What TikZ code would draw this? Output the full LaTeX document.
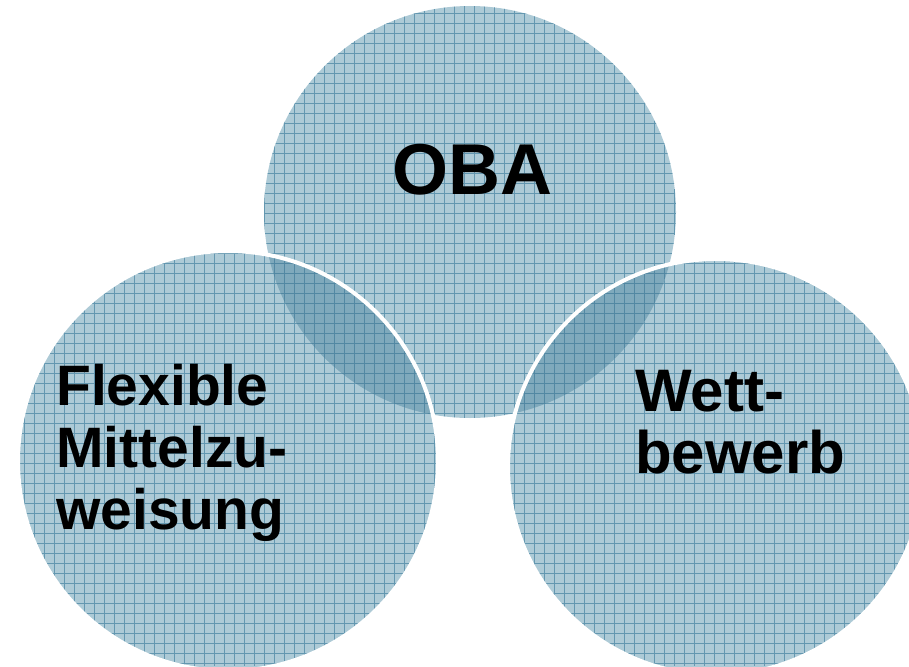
\documentclass[tikz,border=0pt]{standalone}
\usepackage{fontspec}
\setmainfont{Liberation Sans}
\definecolor{basefill}{HTML}{ADCAD6}
\definecolor{lensfill}{HTML}{7FA9BC}
\definecolor{gridcol}{HTML}{6397B0}
\definecolor{gridcoldark}{HTML}{5288A3}
\tikzset{
  gl/.style={line width=0.75pt},
  label3/.style={inner sep=0pt, align=left, font=\bfseries\fontsize{57}{62}\selectfont},
}
\newcommand{\mygrid}[1]{%
  \foreach \i in {4,14,...,914} \draw[gl,#1] (\i,0) -- (\i,666);
  \foreach \j in {3,13,...,666} \draw[gl,#1] (0,\j) -- (909,\j);
}
\begin{document}
\begin{tikzpicture}[x=1pt,y=-1pt]
\useasboundingbox (0,0) rectangle (909,666);
\coordinate (ct) at (470,212);
\coordinate (cl) at (228,461);
\coordinate (cr) at (716,467);
\begin{scope}
  \clip (0,0) rectangle (909,666);
  % top circle
  \fill[basefill] (ct) circle[radius=206];
  \begin{scope}
    \clip (ct) circle[radius=206];
    \mygrid{gridcol}
  \end{scope}
  % left circle
  \fill[basefill] (cl) circle[radius=210];
  \begin{scope}
    \clip (cl) circle[radius=210];
    \mygrid{gridcol}
  \end{scope}
  % right circle
  \fill[basefill] (cr) circle[radius=208];
  \begin{scope}
    \clip (cr) circle[radius=208];
    \mygrid{gridcol}
  \end{scope}
  % lens regions
  \begin{scope}
    \clip (ct) circle[radius=206];
    \clip (cl) circle[radius=210];
    \fill[lensfill] (0,0) rectangle (909,666);
    \mygrid{gridcoldark}
  \end{scope}
  \begin{scope}
    \clip (ct) circle[radius=206];
    \clip (cr) circle[radius=208];
    \fill[lensfill] (0,0) rectangle (909,666);
    \mygrid{gridcoldark}
  \end{scope}
  % white outlines
  \draw[white, line width=4pt] (cl) circle[radius=210];
  \draw[white, line width=4pt] (cr) circle[radius=208];
\end{scope}
% texts
\node[inner sep=0pt, anchor=base, font=\bfseries\fontsize{72}{80}\selectfont] (oba) at (472,194) {OBA};
\node[label3, anchor=north west] (flex) at (56,364) {Flexible\\Mittelzu-\\weisung};
\node[label3, anchor=north west, font=\bfseries\fontsize{60}{62}\selectfont] (wett) at (635,370) {Wett-\\bewerb};
\end{tikzpicture}
\end{document}
